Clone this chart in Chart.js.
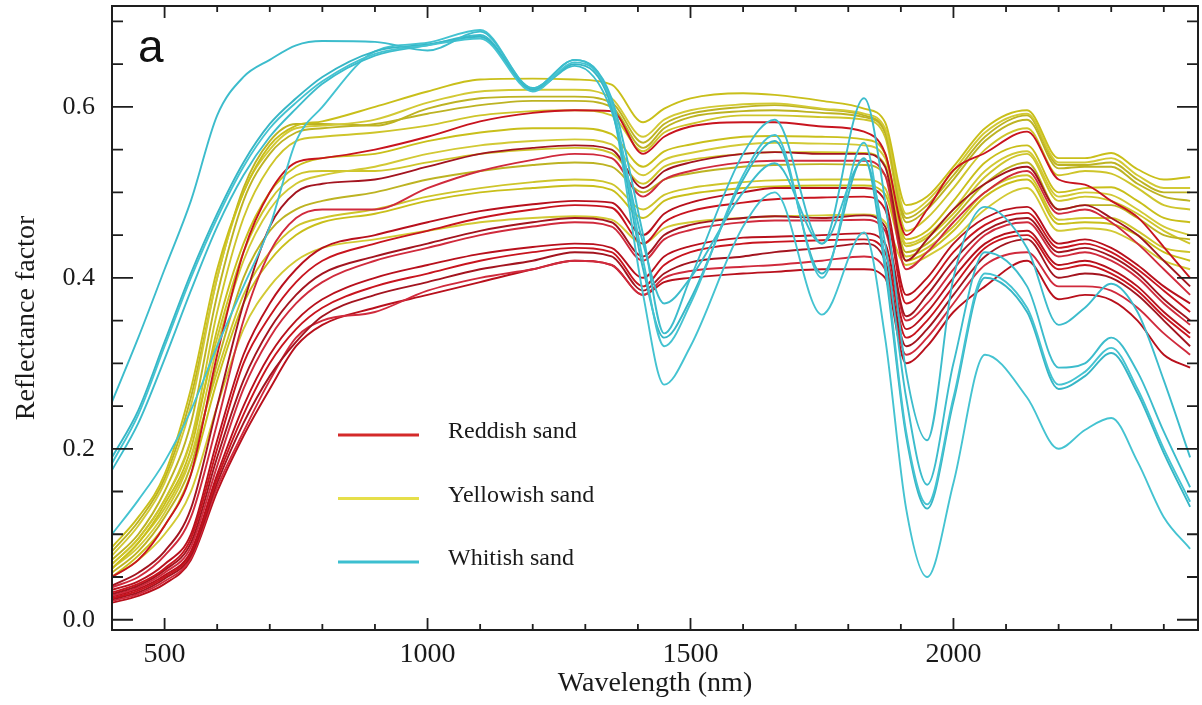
<!DOCTYPE html>
<html>
<head>
<meta charset="utf-8">
<title>Reflectance spectra of sand</title>
<script src="https://cdn.jsdelivr.net/npm/chart.js@4.4.0/dist/chart.umd.min.js"></script>
<style>
  html, body { margin: 0; padding: 0; background: #fff; }
  #wrap { width: 1202px; height: 705px; }
</style>
</head>
<body>
<div id="wrap"><canvas id="spectra" width="1202" height="705"></canvas></div>
<script>
// wavelength grid (nm) shared by every curve
const wavelengths = [400, 450, 500, 550, 600, 650, 700, 750, 800, 900, 1000, 1100, 1200, 1280,
  1350, 1410, 1450, 1500, 1600, 1660, 1750, 1830, 1870, 1910, 1950, 2000, 2060, 2140,
  2200, 2250, 2300, 2350, 2400, 2450];

const legendLabels = ['Reddish sand', 'Yellowish sand', 'Whitish sand'];

const reddishSand = [
  [.05,.07,.11,.17,.31,.43,.50,.535,.54, .55,.565,.583,.593,.596, .595,.545,.565,.577, .582,.582,.577,.571,.546, .45,.48,.526,.546,.571, .515,.509,.49,.471,.436,.40],
  [.04,.055,.08,.13,.25,.37,.46,.50,.51, .515,.53,.545,.552,.555, .55,.505,.525,.535, .545,.547,.545,.545,.53, .42,.445,.48,.51,.53, .48,.485,.47,.45,.42,.39],
  [.038,.05,.075,.12,.23,.35,.43,.47,.48, .48,.505,.525,.538,.545, .54,.495,.515,.525, .535,.537,.537,.537,.52, .41,.43,.465,.50,.525, .475,.48,.465,.44,.41,.38],
  [.035,.045,.065,.10,.21,.31,.37,.41,.435, .45,.465,.478,.486,.49, .488,.45,.475,.488, .50,.505,.505,.505,.49, .38,.40,.44,.47,.483, .44,.445,.435,.415,.39,.37],
  [.032,.042,.06,.095,.20,.30,.355,.395,.42, .44,.455,.47,.48,.485, .482,.44,.465,.478, .488,.492,.494,.495,.48, .37,.39,.43,.462,.476, .435,.44,.43,.41,.385,.36],
  [.03,.04,.058,.09,.19,.28,.34,.38,.405, .425,.44,.455,.465,.47, .465,.425,.45,.462, .47,.472,.47,.473,.46, .355,.38,.42,.455,.47, .43,.435,.425,.405,.375,.35],
  [.028,.038,.055,.085,.18,.27,.33,.37,.395, .42,.435,.45,.46,.465, .46,.42,.445,.456, .465,.467,.467,.468,.455, .35,.37,.41,.45,.465, .425,.43,.42,.40,.37,.345],
  [.027,.036,.052,.08,.17,.25,.31,.35,.375, .40,.415,.428,.436,.44, .435,.40,.425,.437, .447,.448,.45,.452,.44, .34,.36,.40,.44,.455, .415,.42,.41,.39,.36,.335],
  [.025,.034,.05,.078,.165,.24,.30,.34,.365, .39,.405,.42,.43,.435, .43,.39,.415,.43, .44,.442,.444,.445,.43, .33,.35,.39,.435,.45, .41,.415,.405,.385,.355,.33],
  [.024,.032,.048,.075,.16,.23,.285,.325,.355, .38,.395,.41,.42,.43, .425,.385,.405,.418, .425,.43,.435,.44,.42, .32,.34,.38,.425,.445, .40,.405,.40,.38,.35,.32],
  [.022,.03,.045,.072,.155,.22,.28,.33,.35, .36,.385,.40,.41,.42, .415,.38,.40,.408, .413,.415,.42,.425,.41, .31,.33,.37,.415,.43, .39,.39,.385,.365,.335,.31],
  [.02,.028,.042,.07,.15,.215,.27,.32,.345, .365,.38,.395,.41,.42, .415,.38,.395,.40, .405,.407,.41,.41,.40, .30,.32,.36,.39,.42, .375,.38,.374,.35,.31,.295]
];

const yellowishSand = [
  [.085,.12,.17,.27,.41,.50,.555,.578,.583, .60,.618,.632,.633,.632, .626,.582,.598,.61, .616,.614,.607,.598,.582, .485,.495,.53,.575,.596, .54,.54,.546,.527,.515,.518],
  [.075,.11,.16,.25,.40,.50,.55,.575,.578, .585,.605,.618,.62,.62, .61,.565,.585,.596, .603,.604,.598,.592,.575, .475,.49,.525,.57,.592, .535,.535,.54,.52,.505,.505],
  [.07,.10,.15,.23,.38,.49,.545,.57,.575, .58,.592,.602,.607,.607, .60,.552,.575,.588, .595,.596,.593,.588,.57, .465,.48,.515,.56,.585, .528,.53,.53,.51,.495,.49],
  [.065,.095,.14,.21,.36,.47,.53,.56,.565, .57,.578,.59,.595,.596, .59,.548,.57,.58, .59,.59,.588,.585,.565, .455,.47,.505,.55,.575, .52,.525,.522,.505,.485,.48],
  [.06,.09,.135,.20,.34,.44,.50,.53,.54, .545,.56,.57,.575,.575, .568,.53,.548,.556, .565,.566,.565,.562,.545, .445,.455,.49,.535,.555, .50,.505,.506,.49,.47,.465],
  [.06,.085,.125,.19,.32,.42,.48,.51,.52, .53,.545,.555,.56,.562, .556,.52,.538,.546, .556,.558,.557,.555,.54, .44,.45,.48,.525,.548, .495,.50,.497,.48,.46,.45],
  [.055,.08,.12,.18,.30,.40,.455,.48,.49, .50,.515,.525,.532,.535, .53,.50,.515,.522, .53,.532,.533,.532,.52, .43,.44,.47,.51,.535, .48,.485,.485,.47,.45,.445],
  [.06,.09,.13,.19,.29,.38,.43,.46,.47, .48,.495,.505,.512,.515, .51,.48,.497,.505, .512,.514,.515,.515,.505, .425,.435,.46,.50,.52, .468,.47,.47,.455,.435,.43],
  [.05,.075,.11,.17,.28,.37,.42,.45,.465, .475,.49,.50,.505,.508, .503,.47,.49,.498, .505,.507,.508,.508,.498, .42,.43,.455,.495,.515, .463,.465,.463,.45,.43,.42],
  [.05,.07,.10,.15,.25,.34,.39,.42,.435, .445,.455,.465,.47,.472, .468,.44,.458,.465, .47,.472,.473,.474,.465, .415,.425,.445,.48,.505, .455,.458,.455,.44,.42,.41],
  [.08,.115,.165,.26,.40,.505,.56,.58,.58, .578,.598,.61,.612,.612, .605,.558,.58,.592, .60,.602,.597,.59,.572, .47,.485,.52,.565,.59, .532,.532,.535,.515,.50,.50],
  [.065,.095,.14,.21,.33,.43,.49,.52,.525, .525,.535,.545,.55,.552, .546,.51,.53,.538, .545,.547,.547,.546,.532, .437,.447,.475,.518,.545, .49,.495,.49,.475,.455,.44]
];

const whitishSand = [
  [.255,.33,.41,.49,.59,.635,.655,.672,.677, .676,.666,.688,.622,.655, .61,.45,.335,.40, .545,.585,.44,.61,.49, .29,.21,.40,.483,.435, .345,.365,.393,.36,.28,.19],
  [.183,.24,.32,.40,.47,.53,.575,.605,.63, .662,.672,.68,.618,.652, .605,.42,.32,.37, .52,.567,.40,.558,.42, .22,.135,.26,.405,.365, .275,.29,.318,.27,.20,.138],
  [.19,.245,.325,.405,.475,.535,.58,.61,.635, .665,.673,.682,.62,.65, .60,.41,.33,.375, .515,.56,.405,.54,.41, .215,.13,.255,.40,.36, .27,.285,.312,.265,.195,.132],
  [.175,.23,.305,.385,.46,.52,.565,.598,.627, .66,.672,.684,.62,.648, .595,.44,.37,.40, .50,.534,.44,.538,.44, .26,.158,.30,.43,.39, .295,.30,.33,.29,.22,.155],
  [.10,.14,.185,.245,.32,.39,.46,.56,.60, .665,.675,.69,.622,.655, .60,.38,.275,.32, .46,.50,.357,.453,.33, .13,.05,.16,.31,.26, .20,.222,.236,.185,.12,.083]
];

const xTicks = [500, 1000, 1500, 2000];
const xMinorTicks = [500, 600, 700, 800, 900, 1000, 1100, 1200, 1300, 1400, 1500, 1600, 1700,
  1800, 1900, 2000, 2100, 2200, 2300, 2400];
const yTicks = [0, 0.2, 0.4, 0.6];
const yMinorTicks = [0, 0.05, 0.1, 0.15, 0.2, 0.25, 0.3, 0.35, 0.4, 0.45, 0.5, 0.55, 0.6, 0.65, 0.7];

const redShades = ['#c8141e', '#a3141f', '#d02a3c', '#b8101c'];
const yellowShades = ['#c9bf1a', '#d2c934', '#bdb322', '#cec52a'];
const cyanShades = ['#3cbccc', '#44c3d1', '#36b6c6'];
const legendColors = ['#d42a2a', '#e6df4a', '#3cbfd0'];

const serif = 'Liberation Serif, Times New Roman, serif';

function toPoints(values) {
  return wavelengths.map((w, i) => ({ x: w, y: values[i] }));
}

const datasets = [];
whitishSand.forEach((v, i) => datasets.push({ label: legendLabels[2], data: toPoints(v), borderColor: cyanShades[i % cyanShades.length] }));
reddishSand.forEach((v, i) => datasets.push({ label: legendLabels[0], data: toPoints(v), borderColor: redShades[i % redShades.length] }));
yellowishSand.forEach((v, i) => datasets.push({ label: legendLabels[1], data: toPoints(v), borderColor: yellowShades[i % yellowShades.length] }));

// frame with inward ticks on all four sides, panel letter and legend
const framePlugin = {
  id: 'framePlugin',
  afterDraw(chart) {
    const { ctx, chartArea: a, scales: { x, y } } = chart;
    ctx.save();
    ctx.strokeStyle = '#1e1e1e';
    ctx.lineWidth = 2;
    ctx.strokeRect(a.left, a.top, a.right - a.left, a.bottom - a.top);

    ctx.lineWidth = 1.8;
    ctx.beginPath();
    xMinorTicks.forEach(v => {
      const px = x.getPixelForValue(v);
      const len = xTicks.includes(v) ? 12 : 6;
      ctx.moveTo(px, a.bottom); ctx.lineTo(px, a.bottom - len);
      ctx.moveTo(px, a.top); ctx.lineTo(px, a.top + len);
    });
    yMinorTicks.forEach(v => {
      const py = y.getPixelForValue(v);
      const len = yTicks.includes(v) ? 21 : 11;
      ctx.moveTo(a.left, py); ctx.lineTo(a.left + len, py);
      ctx.moveTo(a.right, py); ctx.lineTo(a.right - len, py);
    });
    ctx.stroke();

    ctx.fillStyle = '#111';
    ctx.font = '46px Liberation Sans, Arial, sans-serif';
    ctx.textBaseline = 'alphabetic';
    ctx.fillText('a', a.left + 26, a.top + 56);

    ctx.font = '24px ' + serif;
    ctx.textBaseline = 'middle';
    legendLabels.forEach((label, i) => {
      const ly = a.top + 429 + i * 63.5;
      ctx.strokeStyle = legendColors[i];
      ctx.lineWidth = 3;
      ctx.beginPath();
      ctx.moveTo(a.left + 226, ly);
      ctx.lineTo(a.left + 307, ly);
      ctx.stroke();
      ctx.fillStyle = '#1a1a1a';
      ctx.fillText(label, a.left + 336, ly - 3);
    });
    ctx.restore();
  }
};

new Chart(document.getElementById('spectra'), {
  type: 'line',
  data: { datasets },
  options: {
    responsive: false,
    animation: false,
    layout: { padding: { top: 6, right: 4, left: 0, bottom: 0 } },
    elements: {
      point: { radius: 0 },
      line: { borderWidth: 1.9, cubicInterpolationMode: 'monotone', fill: false }
    },
    plugins: { legend: { display: false }, tooltip: { enabled: false } },
    scales: {
      x: {
        type: 'linear',
        min: 400,
        max: 2465,
        afterBuildTicks: s => { s.ticks = xTicks.map(v => ({ value: v })); },
        afterFit: s => { s.height = 75; s.paddingLeft = 0; s.paddingRight = 0; },
        grid: { display: false, drawTicks: false },
        border: { display: false },
        ticks: { color: '#1a1a1a', padding: 8, maxRotation: 0, callback: v => String(v), font: { family: serif, size: 28 } },
        title: { display: true, text: 'Wavelength (nm)', color: '#1a1a1a', padding: { top: 0, bottom: 5 }, font: { family: serif, size: 28 } }
      },
      y: {
        min: -0.012,
        max: 0.718,
        afterBuildTicks: s => { s.ticks = yTicks.map(v => ({ value: v })); },
        afterFit: s => { s.width = 112; s.paddingTop = 0; s.paddingBottom = 0; },
        grid: { display: false, drawTicks: false },
        border: { display: false },
        ticks: { color: '#1a1a1a', padding: 17, callback: v => v.toFixed(1), font: { family: serif, size: 26 } },
        title: { display: true, text: 'Reflectance factor', color: '#1a1a1a', padding: { top: 10, bottom: 0 }, font: { family: serif, size: 28 } }
      }
    }
  },
  plugins: [framePlugin]
});
</script>
</body>
</html>
